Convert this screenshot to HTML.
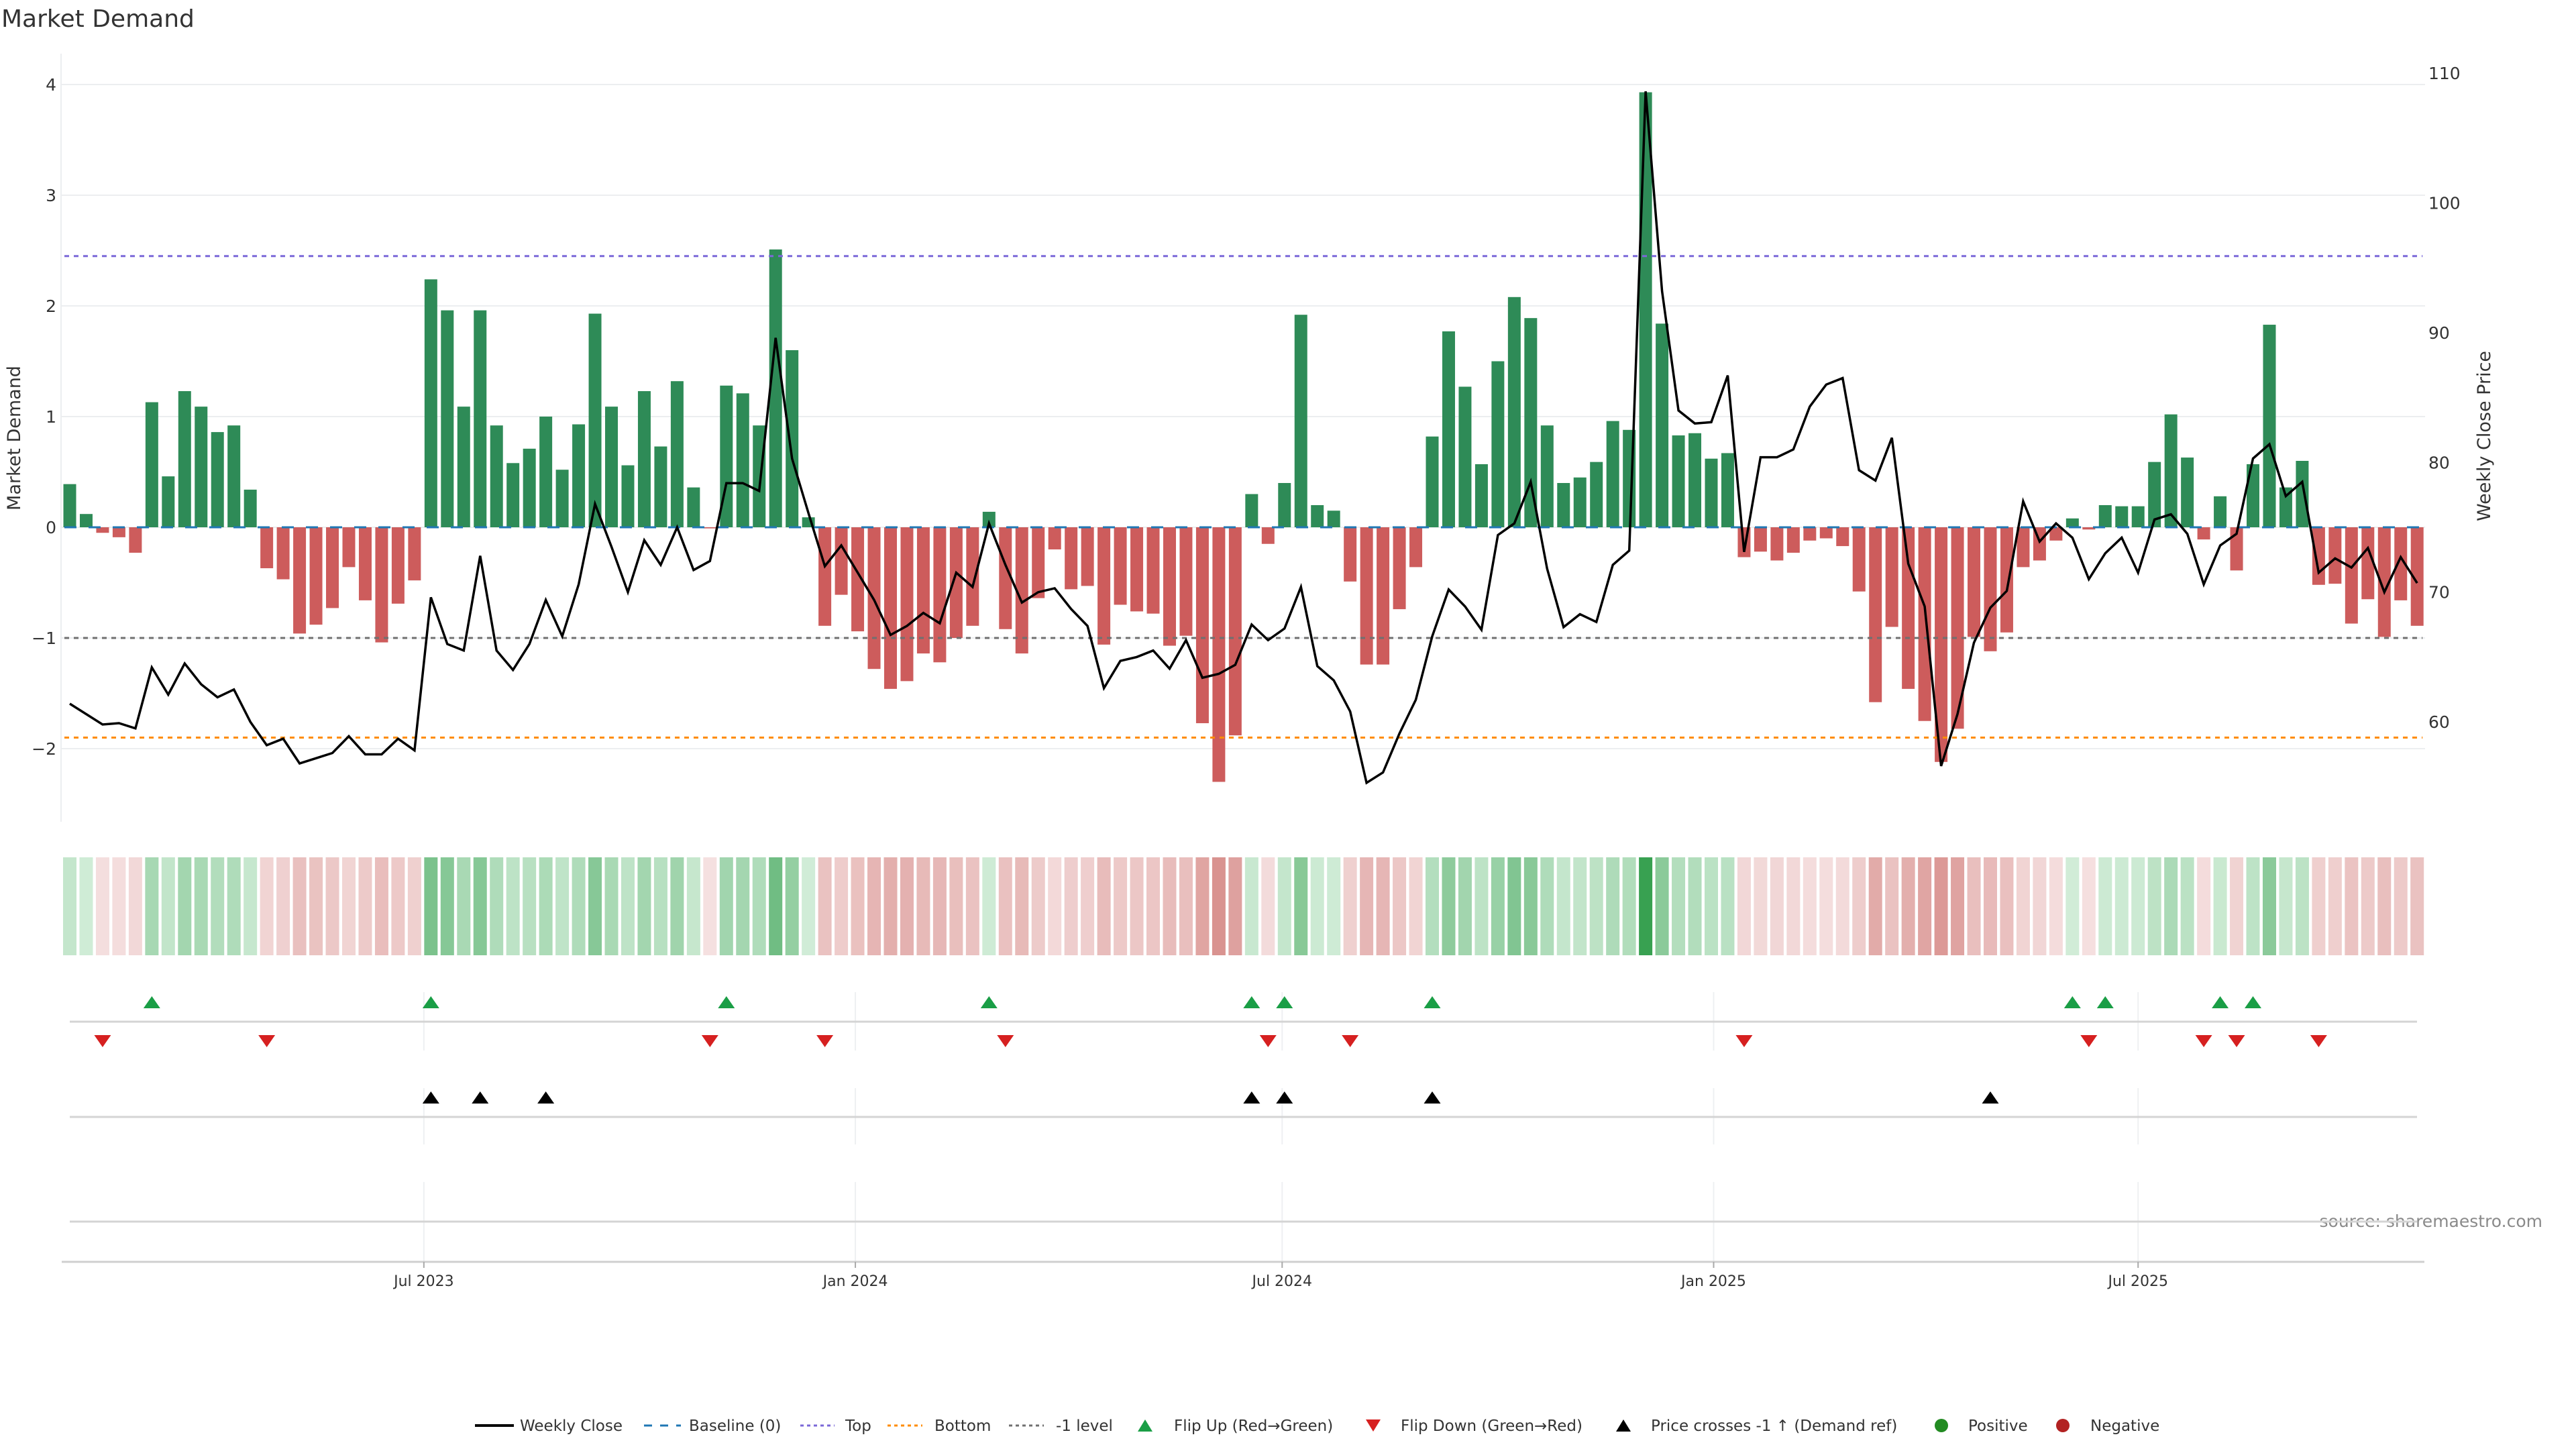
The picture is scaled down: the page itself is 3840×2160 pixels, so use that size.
<!DOCTYPE html>
<html><head><meta charset="utf-8"><title>Market Demand</title>
<style>
html,body{margin:0;padding:0;background:#fff;}
svg{display:block;font-family:"DejaVu Sans","Liberation Sans",sans-serif;}
</style></head>
<body>
<svg id="chart" xmlns="http://www.w3.org/2000/svg" width="3840" height="2160" viewBox="0 0 3840 2160">
<text x="2" y="40" font-size="36" fill="#333">Market Demand</text>
<text transform="translate(30,653) rotate(-90)" text-anchor="middle" font-size="27" fill="#333">Market Demand</text>
<text transform="translate(3712,650) rotate(-90)" text-anchor="middle" font-size="27" fill="#333">Weekly Close Price</text>
<text x="3790" y="1829" text-anchor="end" font-size="25" fill="#8a8a8a">source: sharemaestro.com</text>
<g id="layer"></g>
<g id="legend" font-size="23" fill="#333"></g>
</svg>
<script>
const demand = [0.39,0.12,-0.05,-0.09,-0.23,1.13,0.46,1.23,1.09,0.86,0.92,0.34,-0.37,-0.47,-0.96,-0.88,-0.73,-0.36,-0.66,-1.04,-0.69,-0.48,
2.24,1.96,1.09,1.96,0.92,0.58,0.71,1.0,0.52,0.93,1.93,1.09,0.56,1.23,0.73,1.32,0.36,-0.01,1.28,1.21,0.92,2.51,1.6,0.09,
-0.89,-0.61,-0.94,-1.28,-1.46,-1.39,-1.14,-1.22,-1.0,-0.89,0.14,-0.92,-1.14,-0.64,-0.2,-0.56,-0.53,-1.06,-0.7,-0.76,-0.78,-1.07,-0.98,-1.77,-2.3,-1.88,
0.3,-0.15,0.4,1.92,0.2,0.15,-0.49,-1.24,-1.24,-0.74,-0.36,0.82,1.77,1.27,0.57,1.5,2.08,1.89,0.92,0.4,0.45,0.59,0.96,0.88,3.93,1.84,0.83,0.85,0.62,0.67,
-0.27,-0.22,-0.3,-0.23,-0.12,-0.1,-0.17,-0.58,-1.58,-0.9,-1.46,-1.75,-2.12,-1.82,-0.99,-1.12,-0.95,-0.36,-0.3,-0.12,0.08,-0.02,0.2,0.19,0.19,0.59,1.02,0.63,
-0.11,0.28,-0.39,0.57,1.83,0.36,0.6,-0.52,-0.51,-0.87,-0.65,-0.99,-0.66,-0.89];
const closePrice = [61.4,60.6,59.8,59.9,59.5,64.2,62.1,64.5,62.9,61.9,62.5,60.0,58.2,58.7,56.8,57.2,57.6,58.9,57.5,57.5,58.7,57.8,
69.6,66.0,65.5,72.8,65.5,64.0,66.0,69.4,66.6,70.6,76.8,73.5,70.0,74.0,72.1,75.0,71.7,72.4,78.4,78.4,77.8,89.6,80.3,76.1,
72.0,73.6,71.5,69.4,66.7,67.4,68.4,67.6,71.5,70.4,75.3,72.1,69.2,70.0,70.3,68.7,67.4,62.6,64.7,65.0,65.5,64.1,66.3,63.4,63.7,64.4,
67.5,66.3,67.2,70.4,64.3,63.2,60.8,55.3,56.1,59.1,61.7,66.6,70.2,68.9,67.1,74.4,75.3,78.5,71.8,67.3,68.3,67.7,72.1,73.2,108.6,93.2,84.0,83.0,83.1,86.7,
73.1,80.4,80.4,81.0,84.3,86.0,86.5,79.4,78.6,81.9,72.2,68.9,56.6,60.6,66.1,68.8,70.1,77.0,73.9,75.3,74.2,71.0,73.0,74.2,71.5,75.6,76.0,74.5,
70.6,73.6,74.5,80.3,81.4,77.4,78.5,71.5,72.6,71.9,73.4,70.0,72.7,70.7];
const crossIdx = [22,25,29,72,74,83,117];
const demandTicks = [-2,-1,0,1,2,3,4];
const priceTicks = [60,70,80,90,100,110];
const dateTicks = ["2023-07-01","2024-01-01","2024-07-01","2025-01-01","2025-07-01"];
const dateTickLabels = ["Jul 2023","Jan 2024","Jul 2024","Jan 2025","Jul 2025"];
const levelTop = 2.45, levelBottom = -1.9, levelMinus1 = -1;

const NS="http://www.w3.org/2000/svg";
const layer=document.getElementById('layer');
function mk(tag,attrs,parent){const e=document.createElementNS(NS,tag);for(const k in attrs)e.setAttribute(k,attrs[k]);(parent||layer).appendChild(e);return e;}
const X0=104, PITCH=24.47;
const xi=i=>X0+i*PITCH;
const startMs=Date.UTC(2023,0,31);
const xd=s=>{const d=new Date(s+"T00:00:00Z").getTime();return X0+(d-startMs)/(7*864e5)*PITCH;};
const yD=v=>786-v*165;
const yP=p=>786-(p-75)*19.34;
const PL=91, PR=3615;

// gridlines
demandTicks.forEach(t=>{
  const g=mk('line',{x1:PL,x2:PR,y1:yD(t),y2:yD(t),stroke:'#eceef0','stroke-width':2});
  
  
  const tx=mk('text',{x:84,y:yD(t)+9,'text-anchor':'end','font-size':25,fill:'#333'});
  tx.textContent=(t<0?'\u2212'+Math.abs(t):String(t));
  
  
});
const sp=mk('line',{x1:PL,x2:PL,y1:80,y2:1225,stroke:'#eceef0','stroke-width':2});


priceTicks.forEach(t=>{
  const tx=mk('text',{x:3620,y:yP(t)+9,'font-size':25,fill:'#333'});
  tx.textContent=String(t);
  
  
});

// bars
demand.forEach((v,i)=>{
  const y=Math.min(yD(v),yD(0)), h=Math.abs(yD(v)-yD(0));
  const r=mk('rect',{x:xi(i)-9.5,y:y,width:19,height:Math.max(h,0.5),fill:v>=0?'#2e8b57':'#cd5c5c'});
  
  
});
function hline(v,color,dash,name){
  const l=mk('line',{x1:X0-8,x2:xi(demand.length-1)+8,y1:yD(v),y2:yD(v),stroke:color,'stroke-width':3,'stroke-dasharray':dash});
  
  
}
hline(0,'#1f77b4','18 18','baseline-line');
hline(levelTop,'#7b68d8','7 7','top-line');
hline(levelBottom,'#ff8c00','7 7','bottom-line');
hline(levelMinus1,'#707070','7 7','minus1-level-line');

// price line
const pts=closePrice.map((p,i)=>xi(i).toFixed(1)+','+yP(p).toFixed(1)).join(' ');
const pl=mk('polyline',{points:pts,fill:'none',stroke:'#000','stroke-width':3.5,'stroke-linejoin':'miter'});



// heatmap
function mix(a,b,t){return 'rgb('+a.map((c,k)=>Math.round(c+(b[k]-c)*t)).join(',')+')';}
demand.forEach((v,i)=>{
  const t=Math.min(Math.abs(v)/4,1);
  const c=v>=0?mix([212,238,218],[53,160,79],t):mix([245,224,224],[197,90,85],t);
  const r=mk('rect',{x:xi(i)-10,y:1278,width:20,height:146,fill:c});
  
  
});

// lower panels
[[1479,1566],[1622,1706],[1762,1880]].forEach(([a,b])=>{
  dateTicks.forEach(d=>{
    const l=mk('line',{x1:xd(d),x2:xd(d),y1:a,y2:b,stroke:'#eef0f2','stroke-width':2});
    
    
  });
});
[1523,1665,1821].forEach(y=>{
  const l=mk('line',{x1:104,x2:3603,y1:y,y2:y,stroke:'#d4d4d4','stroke-width':3});
  
  
});
const ax=mk('line',{x1:92,x2:3614,y1:1881,y2:1881,stroke:'#cfcfcf','stroke-width':3});


dateTicks.forEach((d,k)=>{
  const t=mk('line',{x1:xd(d),x2:xd(d),y1:1881,y2:1890,stroke:'#aaa','stroke-width':2});
  
  
  const tx=mk('text',{x:xd(d),y:1917,'text-anchor':'middle','font-size':22,fill:'#333'});
  tx.textContent=dateTickLabels[k];
  
  
});
function tri(cx,cy,up,color,name){
  const w=12.5,h=9;
  const p=up?`${cx-w},${cy+h} ${cx+w},${cy+h} ${cx},${cy-h}`:`${cx-w},${cy-h} ${cx+w},${cy-h} ${cx},${cy+h}`;
  const e=mk('polygon',{points:p,fill:color});
  
  
}
for(let i=1;i<demand.length;i++){
  if(demand[i-1]<0&&demand[i]>=0) tri(xi(i),1494,true,'#1a9e46','flip-up-marker');
  if(demand[i-1]>=0&&demand[i]<0) tri(xi(i),1552,false,'#d62020','flip-down-marker');
}
crossIdx.forEach(i=>tri(xi(i),1636,true,'#000','price-cross-marker'));

// legend
const lg=document.getElementById('legend');
function ltext(x,s){const t=mk('text',{x:x,y:2133},lg);t.textContent=s;}
function lline(x1,x2,color,dash,w,name){const l=mk('line',{x1:x1,x2:x2,y1:2125,y2:2125,stroke:color,'stroke-width':w,'stroke-dasharray':dash},lg);}
lline(708,766,'#000','none',4,'legend-weekly-close'); ltext(775,'Weekly Close');
lline(960,1015,'#1f77b4','12 12',3,'legend-baseline'); ltext(1027,'Baseline (0)');
lline(1193,1244,'#7b68d8','5 5',3,'legend-top'); ltext(1260,'Top');
lline(1323,1375,'#ff8c00','5 5',3,'legend-bottom'); ltext(1393,'Bottom');
lline(1504,1556,'#707070','5 5',3,'legend-minus1'); ltext(1574,'-1 level');
function ltri(cx,up,color,name){const w=11,h=9;const p=up?`${cx-w},${2125+h} ${cx+w},${2125+h} ${cx},${2125-h}`:`${cx-w},${2125-h} ${cx+w},${2125-h} ${cx},${2125+h}`;const e=mk('polygon',{points:p,fill:color},lg);}
ltri(1707,true,'#1a9e46','legend-flip-up'); ltext(1750,'Flip Up (Red\u2192Green)');
ltri(2047,false,'#d62020','legend-flip-down'); ltext(2088,'Flip Down (Green\u2192Red)');
ltri(2420,true,'#000','legend-price-cross'); ltext(2461,'Price crosses -1 \u2191 (Demand ref)');
const c1=mk('circle',{cx:2894,cy:2125,r:10,fill:'#228b22'},lg);


ltext(2934,'Positive');
const c2=mk('circle',{cx:3075,cy:2125,r:10,fill:'#b22222'},lg);


ltext(3116,'Negative');
</script>
</body></html>
